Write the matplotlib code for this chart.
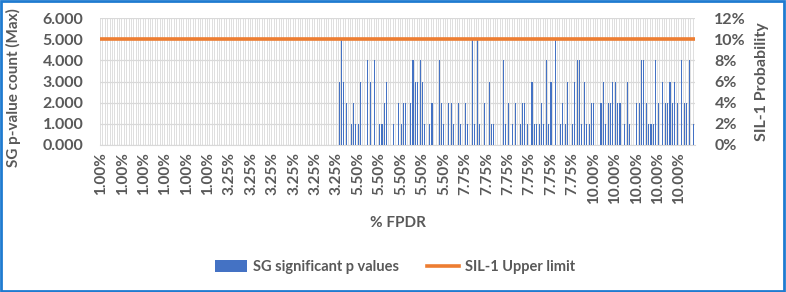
import numpy as np
import matplotlib
matplotlib.use("Agg")
import matplotlib.pyplot as plt
from matplotlib.patches import Rectangle, Patch
from matplotlib.lines import Line2D
from matplotlib.ticker import FuncFormatter

plt.rcParams['font.family'] = ['Lato', 'DejaVu Sans']

# ---- data ----
fpdr_levels = ['1.00%', '3.25%', '5.50%', '7.75%', '10.00%']
runs_per_level = 50
counts_100 = [0] * 50
counts_325 = [0] * 50
counts_550 = [3, 5, 3, 2, 0, 1, 2, 1, 1, 3,
              0, 0, 4, 3, 0, 4, 0, 1, 1, 2,
              3, 0, 0, 1, 0, 2, 1, 2, 2, 0,
              2, 4, 3, 3, 4, 3, 1, 0, 1, 2,
              0, 0, 4, 2, 1, 0, 2, 2, 1, 0]
counts_775 = [2, 1, 0, 2, 1, 0, 5, 1, 5, 1,
              0, 2, 0, 3, 1, 1, 0, 0, 0, 4,
              1, 2, 0, 1, 2, 0, 1, 2, 2, 1,
              0, 3, 1, 1, 1, 2, 1, 4, 1, 3,
              0, 5, 0, 1, 2, 1, 3, 0, 1, 3]
counts_1000 = [4, 4, 1, 3, 1, 1, 2, 2, 0, 0,
               2, 3, 1, 2, 2, 3, 3, 2, 2, 0,
               1, 3, 1, 0, 0, 2, 2, 4, 4, 2,
               1, 1, 1, 4, 2, 0, 3, 2, 2, 3,
               2, 3, 2, 0, 4, 2, 2, 4, 0, 1]
sil1_upper_limit = 0.10
label_every = 9

sg_counts = counts_100 + counts_325 + counts_550 + counts_775 + counts_1000
categories = [lvl for lvl in fpdr_levels for _ in range(runs_per_level)]
n = len(categories)
x = np.arange(n)
sil_line = [sil1_upper_limit] * n

# ---- figure ----
W, H = 786, 292
fig = plt.figure(figsize=(W / 100, H / 100), dpi=100)
L, R, T, B = 100, 695, 18, 145
ax = fig.add_axes([L / W, 1 - B / H, (R - L) / W, (B - T) / H])
ax2 = ax.twinx()

txt = '#595959'
grid = '#d9d9d9'
blue = '#4472C4'
orange = '#ED7D31'

ax.bar(x, sg_counts, width=0.45, color=blue, zorder=3, linewidth=0)
ax.set_xlim(-0.5, n - 0.5)
ax.set_ylim(0, 6)
ax.set_yticks(np.arange(0, 7, 1))
ax.yaxis.set_major_formatter(FuncFormatter(lambda v, p: f'{v:.3f}'))

ticks = x[::label_every]
ax.set_xticks(ticks)
ax.set_xticklabels([categories[i] for i in ticks], rotation=90)
ax.set_xticks(np.arange(-0.5, n, 1), minor=True)
ax.grid(which='minor', axis='x', color=grid, lw=0.6, zorder=0)
ax.grid(which='major', axis='y', color=grid, lw=0.9, zorder=0)
ax.tick_params(axis='x', which='both', length=0, pad=5, labelsize=11, labelcolor=txt)
ax.tick_params(axis='y', length=0, pad=12, labelsize=11.5, labelcolor=txt)
for lab in ax.get_xticklabels() + ax.get_yticklabels():
    lab.set_fontweight('bold')

ax2.plot(x, sil_line, color=orange, lw=2.6, zorder=4)
ax2.set_xlim(-0.5, n - 0.5)
ax2.set_ylim(0, 0.12)
ax2.set_yticks(np.arange(0, 0.121, 0.02))
ax2.yaxis.set_major_formatter(FuncFormatter(lambda v, p: f'{v*100:.0f}%'))
ax2.tick_params(axis='y', length=0, pad=14, labelsize=11.5, labelcolor=txt)
for lab in ax2.get_yticklabels():
    lab.set_fontweight('bold')

for a in (ax, ax2):
    for s in a.spines.values():
        s.set_visible(False)
ax.spines['bottom'].set_visible(True)
ax.spines['bottom'].set_color(grid)

fig.text(13 / W, 1 - 88 / H, 'SG p-value count (Max)', rotation=90, ha='center', va='center',
         fontsize=11, color=txt, fontweight='bold')
fig.text(762 / W, 1 - 82 / H, 'SIL-1 Probability', rotation=90, ha='center', va='center',
         fontsize=11.5, color=txt, fontweight='bold')
fig.text(398 / W, 1 - 223 / H, '% FPDR', ha='center', va='center',
         fontsize=11, color=txt, fontweight='bold')

handles = [Patch(facecolor=blue, edgecolor='none'), Line2D([], [], color=orange, lw=2.6)]
leg = fig.legend(handles, ['SG significant p values', 'SIL-1 Upper limit'],
                 loc='center', bbox_to_anchor=(395 / W, 1 - 267 / H), ncol=2, frameon=False,
                 handlelength=2.2, handleheight=0.9, handletextpad=0.4, columnspacing=1.9,
                 prop={'size': 10.5, 'weight': 'bold'})
for t in leg.get_texts():
    t.set_color(txt)

fig.patches.append(Rectangle((0.001, 0.002), 0.997, 0.995, transform=fig.transFigure,
                             fill=False, edgecolor='#1f7bd0', lw=2))

fig.savefig('out.png', dpi=100, facecolor='white')
